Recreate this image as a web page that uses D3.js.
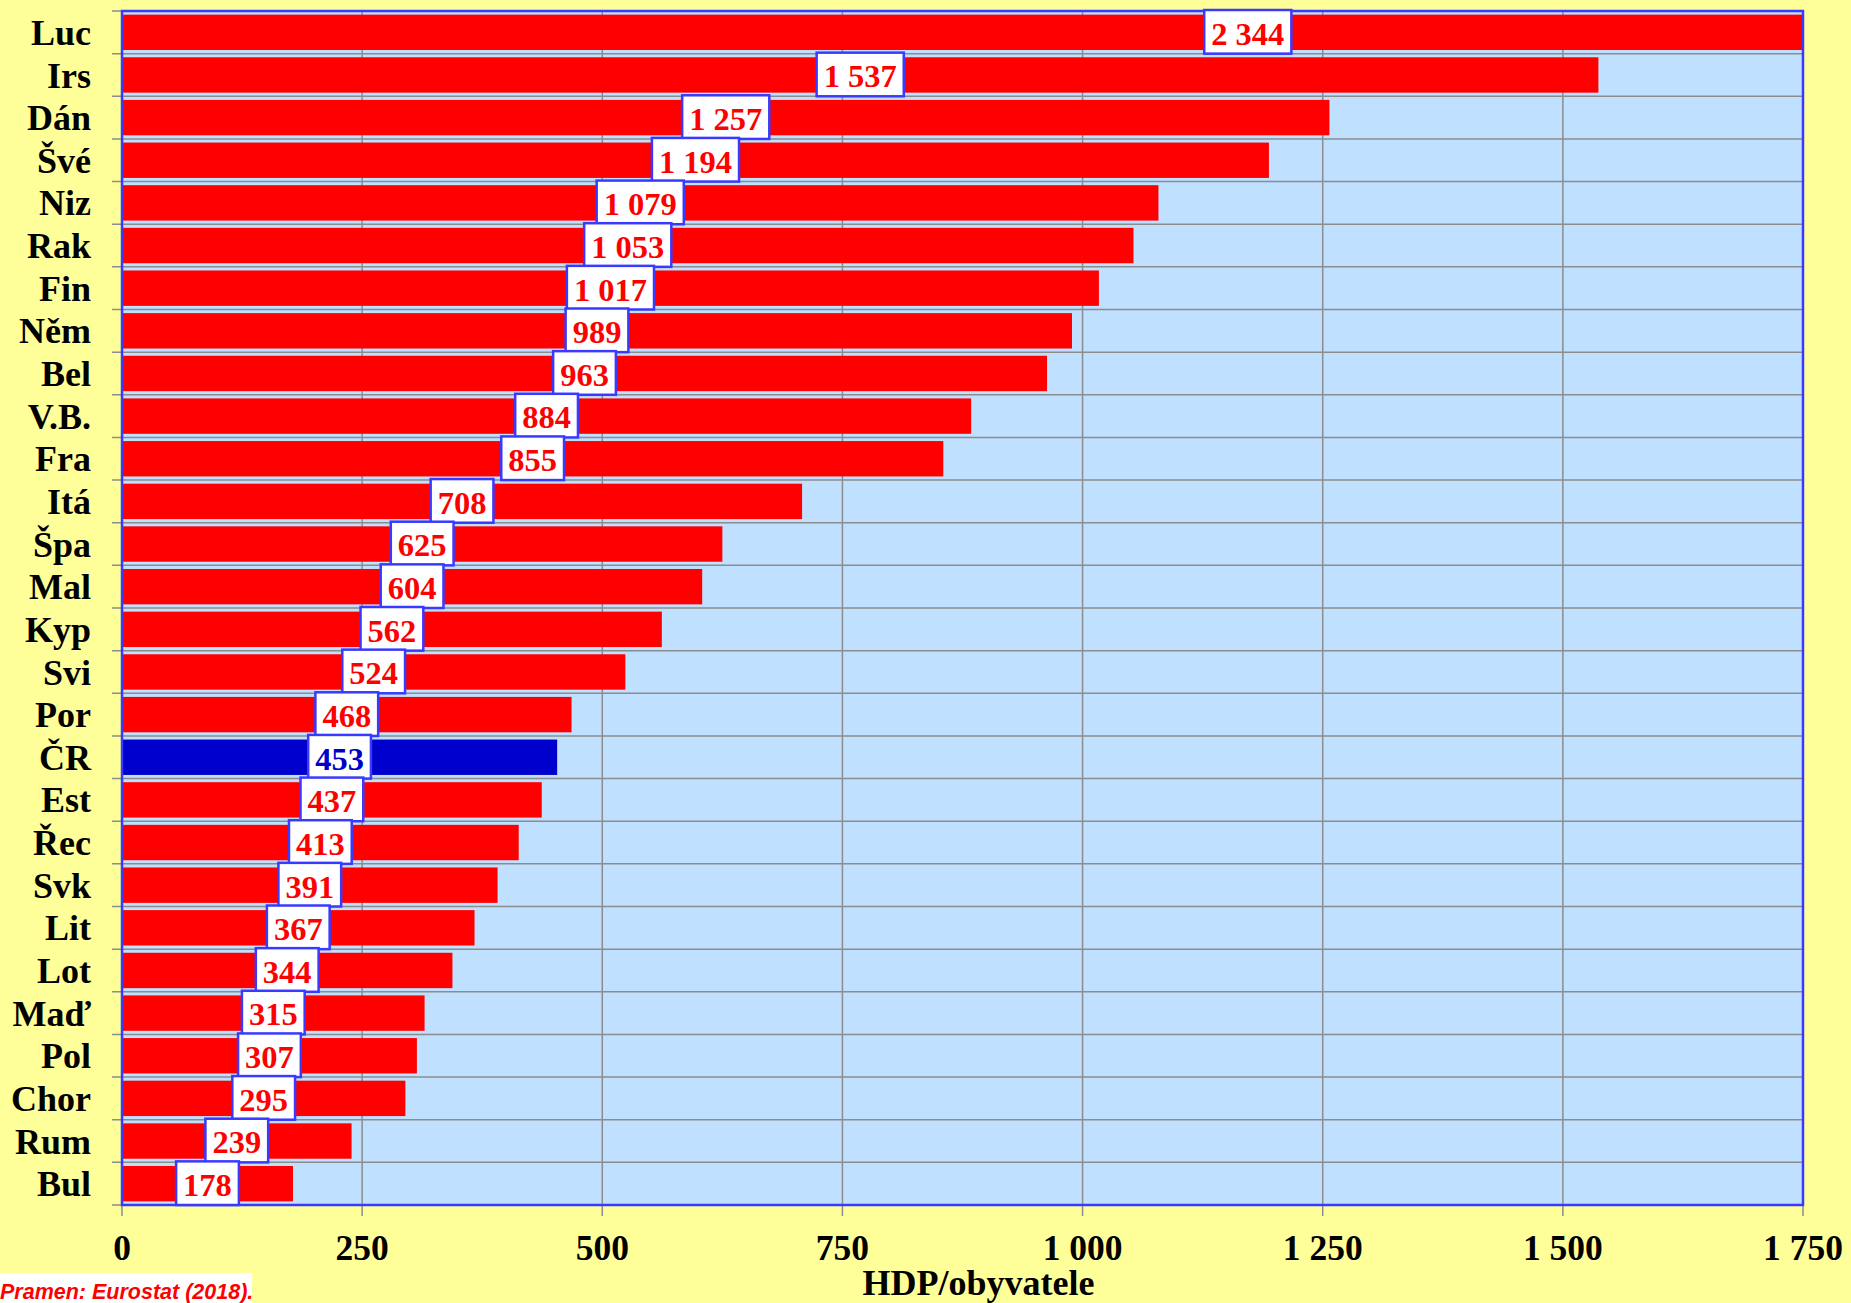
<!DOCTYPE html>
<html>
<head>
<meta charset="utf-8">
<script src="https://cdn.jsdelivr.net/npm/d3@7"></script>
<style>
html,body{margin:0;padding:0;background:#FFFF99;}
svg{display:block;}
</style>
</head>
<body>
<svg id="chart" width="1851" height="1303"></svg>
<script>
const categories = ["Luc","Irs","Dán","Švé","Niz","Rak","Fin","Něm","Bel","V.B.","Fra","Itá","Špa","Mal","Kyp","Svi","Por","ČR","Est","Řec","Svk","Lit","Lot","Maď","Pol","Chor","Rum","Bul"];
const values = [2344,1537,1257,1194,1079,1053,1017,989,963,884,855,708,625,604,562,524,468,453,437,413,391,367,344,315,307,295,239,178];
const highlighted = ["ČR"];
const tickValues = [0,250,500,750,1000,1250,1500,1750];
const tickLabels = ["0","250","500","750","1 000","1 250","1 500","1 750"];
const axisTitle = "HDP/obyvatele";
const sourceNote = "Pramen: Eurostat (2018).";

const W = 1851, H = 1303;
const m = {left:122, right:48, top:11, bottom:98};
const pw = W - m.left - m.right, ph = H - m.top - m.bottom;

const svg = d3.select("#chart");
svg.append("rect").attr("width",W).attr("height",H).attr("fill","#FFFF99");

const x = d3.scaleLinear().domain([0,1750]).range([m.left, m.left+pw]);
const y = d3.scaleBand().domain(categories).range([m.top, m.top+ph]).paddingInner(0.17).paddingOuter(0.085);
const step = y.step();

const fmt = v => d3.format(",")(v).replace(/,/g," ");
const serif = "'Liberation Serif','Times New Roman',serif";

// plot background
svg.append("rect").attr("x",m.left).attr("y",m.top).attr("width",pw).attr("height",ph).attr("fill","#C0E0FF");

svg.append("clipPath").attr("id","clip").append("rect")
  .attr("x",m.left).attr("y",m.top).attr("width",pw).attr("height",ph);

// vertical gridlines
svg.append("g").selectAll("line").data(tickValues).join("line")
  .attr("x1",d=>x(d)).attr("x2",d=>x(d)).attr("y1",m.top).attr("y2",m.top+ph+11)
  .attr("stroke","#8c8c8c").attr("stroke-width",1.5);

// horizontal gridlines + y tick marks
const bounds = d3.range(categories.length+1).map(i => m.top + i*step);
svg.append("g").selectAll("line").data(bounds).join("line")
  .attr("x1",m.left-10).attr("x2",m.left+pw).attr("y1",d=>d).attr("y2",d=>d)
  .attr("stroke","#8c8c8c").attr("stroke-width",1.5);

// bars
svg.append("g").attr("clip-path","url(#clip)").selectAll("rect").data(categories).join("rect")
  .attr("x",x(0)).attr("y",d=>y(d)).attr("height",y.bandwidth())
  .attr("width",(d,i)=>x(values[i])-x(0))
  .attr("fill",d=>highlighted.includes(d)?"#0000CC":"#FF0000");

// plot border
svg.append("rect").attr("x",m.left).attr("y",m.top).attr("width",pw).attr("height",ph)
  .attr("fill","none").attr("stroke","#3a3aff").attr("stroke-width",2.5);

// y labels
svg.append("g").selectAll("text").data(categories).join("text")
  .attr("x",91).attr("y",d=>y(d)+y.bandwidth()/2).attr("dy","0.35em")
  .attr("text-anchor","end")
  .style("font-family",serif)
  .style("font-weight","bold").style("font-size","36px").attr("fill","#000")
  .text(d=>d);

// x tick labels
svg.append("g").selectAll("text").data(tickValues).join("text")
  .attr("x",d=>x(d)).attr("y",1260).attr("text-anchor","middle")
  .style("font-family",serif)
  .style("font-weight","bold").style("font-size","35.5px").attr("fill","#000")
  .text((d,i)=>tickLabels[i]);

// axis title
svg.append("text").attr("x",m.left+pw/2+16).attr("y",1295).attr("text-anchor","middle")
  .style("font-family",serif)
  .style("font-weight","bold").style("font-size","36px").attr("fill","#000")
  .text(axisTitle);

// value labels
const lab = svg.append("g").selectAll("g").data(categories).join("g");
lab.each(function(d,i){
  const g = d3.select(this);
  const cx = x(values[i]/2);
  const col = highlighted.includes(d)?"#0000CC":"#FF0000";
  const t = g.append("text").attr("x",cx).attr("y",y(d)+y.bandwidth()/2+1).attr("dy","0.35em")
    .attr("text-anchor","middle")
    .style("font-family",serif)
    .style("font-weight","bold").style("font-size","32.5px").attr("fill",col)
    .text(fmt(values[i]));
  const w = t.node().getComputedTextLength() + 14;
  const top = y(d) - y.step()*y.paddingInner()/2 - 1;
  g.insert("rect","text").attr("x",cx-w/2).attr("y",top).attr("width",w).attr("height",step+1)
    .attr("fill","#fff").attr("stroke","#3a3aff").attr("stroke-width",2.5);
});

// source note
const src = svg.append("g");
src.append("rect").attr("x",0).attr("y",1273).attr("width",252).attr("height",30).attr("fill","#fff");
src.append("text").attr("x",0).attr("y",1299)
  .style("font-family","'Liberation Sans',Arial,sans-serif")
  .style("font-weight","bold").style("font-style","italic").style("font-size","21.5px")
  .attr("fill","#FF0000").text(sourceNote);
</script>
</body>
</html>
